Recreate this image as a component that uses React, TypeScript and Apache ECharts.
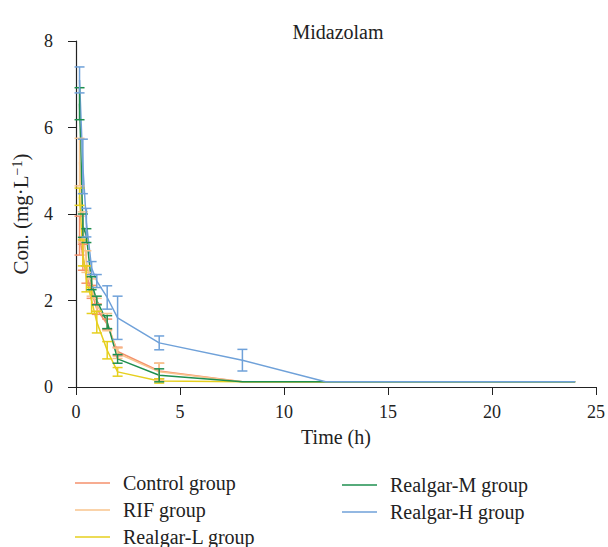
import React, { useEffect, useRef } from "react";
import * as echarts from "echarts";

const times = [0.17, 0.33, 0.5, 0.75, 1, 1.5, 2, 4, 8, 12, 24];
const seriesNames = ["Control group", "RIF group", "Realgar-L group", "Realgar-M group", "Realgar-H group"];
const controlMean = [3.5, 3.0, 2.6, 2.2, 1.8, 1.45, 0.82, 0.37, 0.12, 0.12, 0.12];
const controlErr = [0.45, 0.3, 0.2, 0.15, 0.12, 0.12, 0.1, 0.18, 0, 0, 0];
const rifMean = [5.2, 3.7, 2.9, 2.3, 1.9, 1.5, 0.78, 0.35, 0.12, 0.12, 0.12];
const rifErr = [0.55, 0.35, 0.25, 0.2, 0.15, 0.2, 0.12, 0.2, 0, 0, 0];
const lowMean = [4.4, 3.1, 2.5, 2.0, 1.5, 0.85, 0.35, 0.14, 0.12, 0.12, 0.12];
const lowErr = [0.2, 0.3, 0.3, 0.3, 0.25, 0.2, 0.1, 0.05, 0, 0, 0];
const midMean = [6.55, 3.73, 3.5, 2.4, 2.0, 1.5, 0.65, 0.27, 0.12, 0.12, 0.12];
const midErr = [0.37, 0.27, 0.16, 0.15, 0.1, 0.15, 0.1, 0.15, 0, 0, 0];
const highMean = [7.1, 5.1, 3.8, 2.75, 2.45, 2.07, 1.6, 1.02, 0.62, 0.12, 0.12];
const highErr = [0.3, 0.63, 0.33, 0.15, 0.15, 0.27, 0.5, 0.16, 0.25, 0, 0];

const colors = ["#f4916c", "#f8c48e", "#e6cf1e", "#1e8f4f", "#6fa1d9"];
const means = [controlMean, rifMean, lowMean, midMean, highMean];
const errs = [controlErr, rifErr, lowErr, midErr, highErr];

const FONT = "Liberation Serif";

export default function App() {
  const ref = useRef<HTMLDivElement>(null);
  useEffect(() => {
    if (!ref.current) return;
    const chart = echarts.init(ref.current, null, { renderer: "svg" });
    const lineSeries: any[] = means.map((m, i) => ({
      name: seriesNames[i],
      type: "line",
      data: times.map((t, j) => [t, m[j]]),
      showSymbol: false,
      symbol: "none",
      lineStyle: { color: colors[i], width: 1.5 },
      itemStyle: { color: colors[i] },
      z: 3,
    }));
    const errSeries: any[] = means.map((m, i) => ({
      name: seriesNames[i],
      type: "custom",
      data: times
        .map((t, j) => [t, m[j] - errs[i][j], m[j] + errs[i][j], errs[i][j]])
        .filter((d) => d[3] > 0),
      renderItem: (params: any, api: any) => {
        const x = api.value(0);
        const lo = api.coord([x, api.value(1)]);
        const hi = api.coord([x, api.value(2)]);
        const hw = 5;
        const st = { stroke: colors[i], lineWidth: 1.5 };
        return {
          type: "group",
          children: [
            { type: "line", shape: { x1: lo[0], y1: lo[1], x2: hi[0], y2: hi[1] }, style: st },
            { type: "line", shape: { x1: lo[0] - hw, y1: lo[1], x2: lo[0] + hw, y2: lo[1] }, style: st },
            { type: "line", shape: { x1: hi[0] - hw, y1: hi[1], x2: hi[0] + hw, y2: hi[1] }, style: st },
          ],
        };
      },
      z: 4,
      silent: true,
    }));
    const legendPos = [
      [75, 473],
      [75, 500],
      [75, 527],
      [342, 475],
      [342, 502],
    ];
    const legends = seriesNames.map((n, i) => ({
      orient: "vertical",
      icon: "rect",
      itemWidth: 35,
      itemHeight: 1.5,
      padding: 0,
      left: legendPos[i][0],
      top: legendPos[i][1],
      data: [n],
      textStyle: { fontFamily: FONT, fontSize: 20, color: "#222", padding: [0, 0, 0, 8] },
    }));
    chart.setOption({
      animation: false,
      color: colors,
      title: {
        text: "Midazolam",
        left: 333,
        top: 17,
        textAlign: "center",
        textStyle: { fontFamily: FONT, fontSize: 20, fontWeight: "normal", color: "#222" },
      },
      legend: legends,
      grid: { left: 76, right: 11, top: 41, bottom: 160 },
      xAxis: {
        type: "value",
        min: 0,
        max: 25,
        interval: 5,
        name: "Time (h)",
        nameLocation: "middle",
        nameGap: 40,
        nameTextStyle: { fontFamily: FONT, fontSize: 20, color: "#222" },
        axisLine: { lineStyle: { color: "#222", width: 1.2 } },
        axisTick: { show: true, length: 8, lineStyle: { color: "#222" } },
        axisLabel: { fontFamily: FONT, fontSize: 18, color: "#222", margin: 16 },
        splitLine: { show: false },
      },
      yAxis: {
        type: "value",
        min: 0,
        max: 8,
        interval: 2,
        name: "Con. (mg·L{sup|−1})",
        nameLocation: "middle",
        nameGap: 45,
        nameRotate: 90,
        nameTextStyle: {
          fontFamily: FONT,
          fontSize: 21,
          color: "#222",
          rich: { sup: { fontFamily: FONT, fontSize: 14, color: "#222", verticalAlign: "top", lineHeight: 16 } },
        },
        axisLine: { show: true, lineStyle: { color: "#222", width: 1.2 } },
        axisTick: { show: true, length: 8, lineStyle: { color: "#222" } },
        axisLabel: { fontFamily: FONT, fontSize: 18, color: "#222", margin: 23 },
        splitLine: { show: false },
      },
      series: [...lineSeries, ...errSeries],
    });
    return () => chart.dispose();
  }, []);
  return (
    <div
      ref={ref}
      style={{ position: "absolute", left: 0, top: 0, width: 608, height: 547 }}
    />
  );
}
